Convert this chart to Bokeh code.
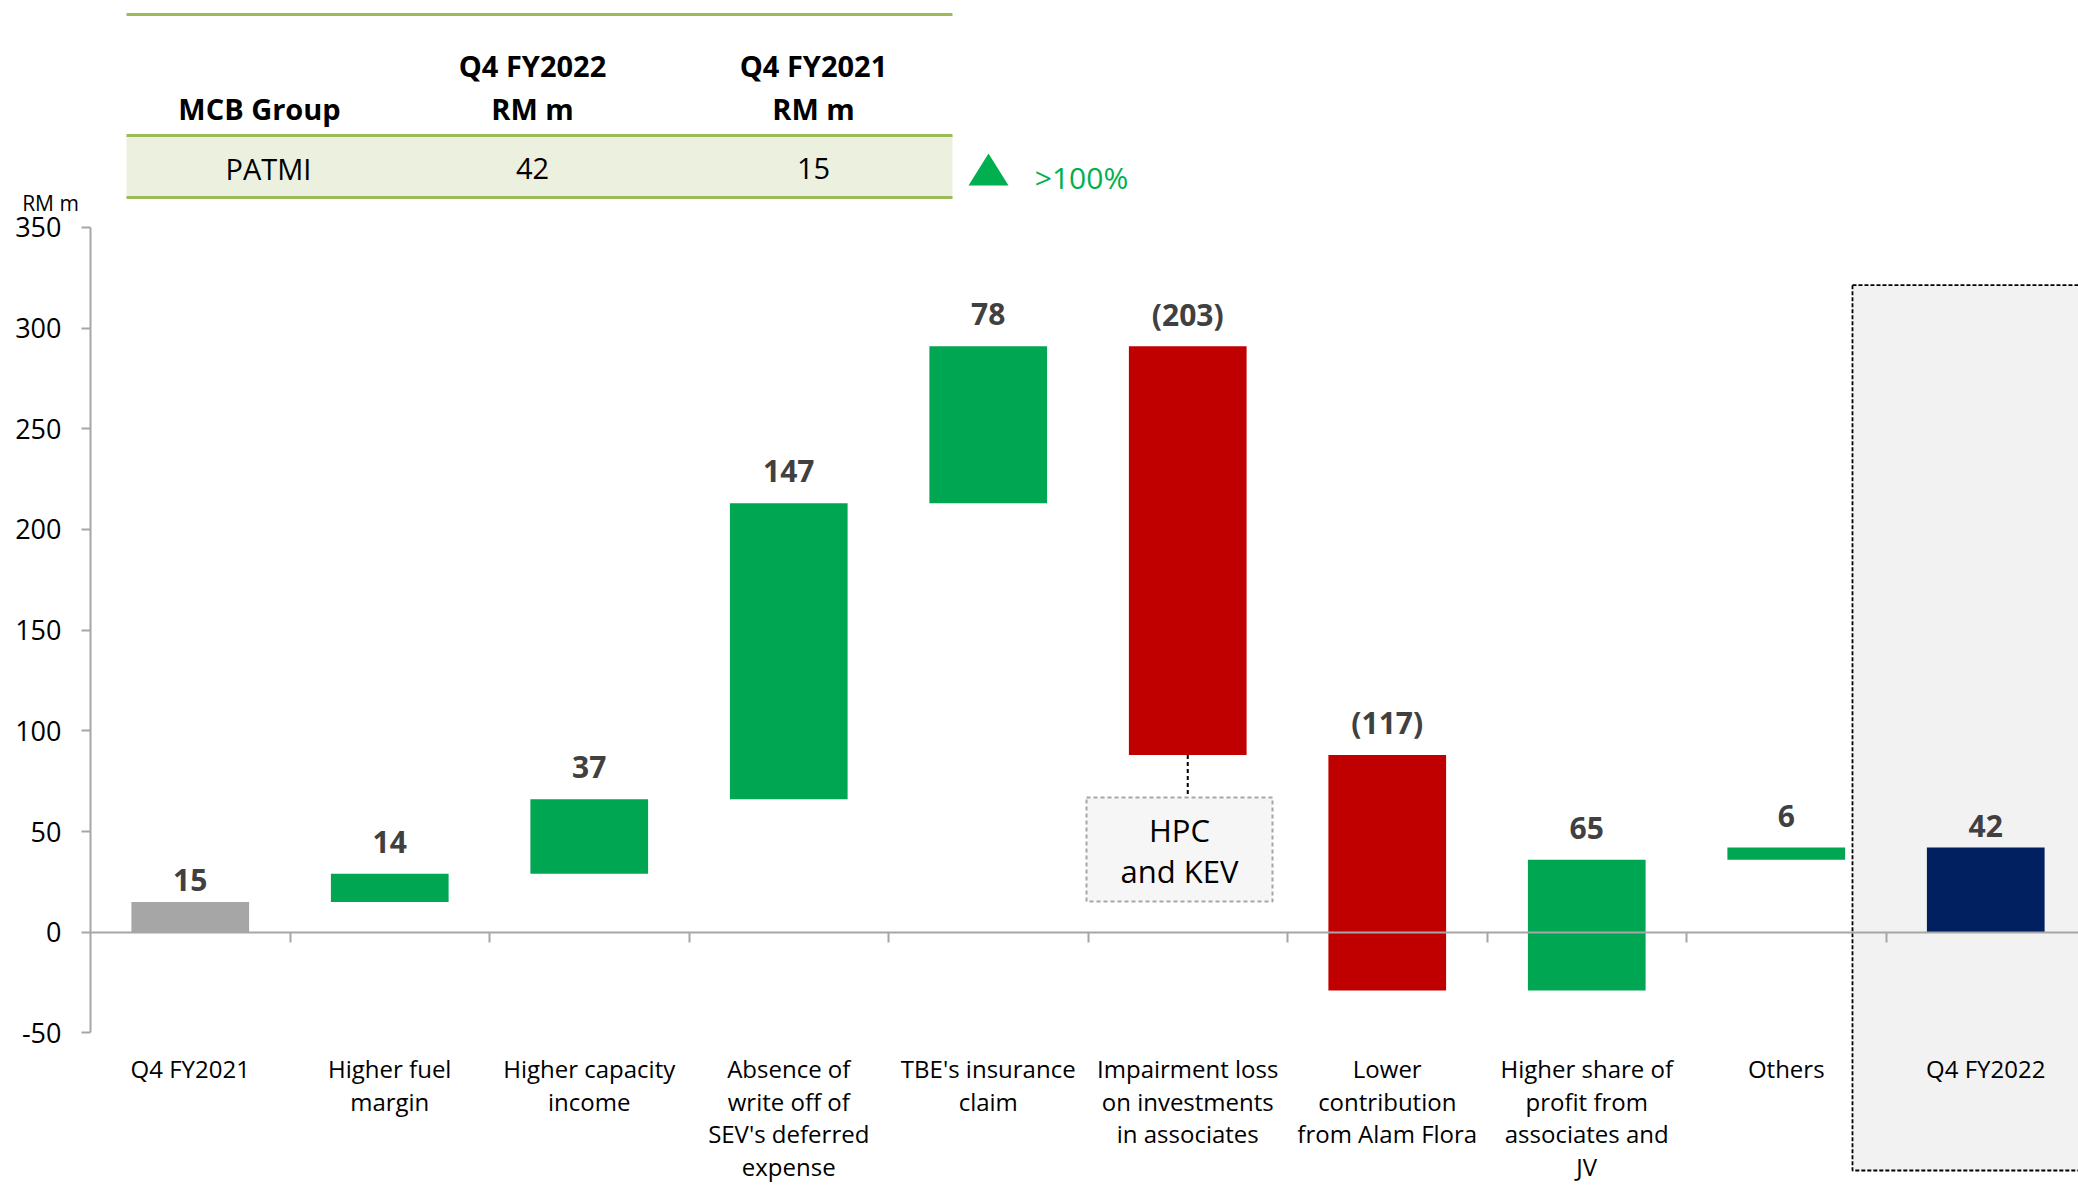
from bokeh.plotting import figure
from bokeh.models import Range1d, LinearAxis, FixedTicker, ColumnDataSource
from bokeh.core.properties import value
from bokeh.embed import file_html
from bokeh.resources import INLINE

# ---------------- data ----------------
categories = [
    "Q4 FY2021",
    "Higher fuel\nmargin",
    "Higher capacity\nincome",
    "Absence of\nwrite off of\nSEV's deferred\nexpense",
    "TBE's insurance\nclaim",
    "Impairment loss\non investments\nin associates",
    "Lower\ncontribution\nfrom Alam Flora",
    "Higher share of\nprofit from\nassociates and\nJV",
    "Others",
    "Q4 FY2022",
]
start_value = 15
deltas = [14, 37, 147, 78, -203, -117, 65, 6]
end_value = 42
y_ticks = [-50, 0, 50, 100, 150, 200, 250, 300, 350]

table_title = "MCB Group"
table_cols = ["Q4 FY2022", "Q4 FY2021"]
table_unit = "RM m"
table_row_name = "PATMI"
table_values = [42, 15]
table_change = ">100%"
note_text = ["HPC", "and KEV"]

# ---------------- layout helpers ----------------
W, H = 2078, 1186
X0, CW, Y0, YS = 90.0, 199.5, 931.7, 2.014   # page px of x=0, px per category, page px of y=0, px per unit


def dx(px):
    return (px - X0) / CW


def dy(py):
    return (Y0 - py) / YS


FONT = value("Open Sans")
GREEN, RED, GRAY, NAVY = "#00A651", "#C00000", "#A6A6A6", "#002060"

p = figure(width=W, height=H, output_backend="svg", toolbar_location=None,
           x_range=Range1d(dx(0), dx(W)), y_range=Range1d(dy(H), dy(0)),
           x_axis_type=None, y_axis_type=None, min_border=0,
           min_border_left=0, min_border_right=0, min_border_top=0, min_border_bottom=0)
p.outline_line_color = None
p.background_fill_color = "white"
p.border_fill_color = "white"

# ---------------- waterfall geometry ----------------
centers, bottoms, tops, colors, labels, kinds = [], [], [], [], [], []
centers.append(0.5); bottoms.append(0); tops.append(start_value); colors.append(GRAY)
labels.append(str(start_value)); kinds.append("total")
running = start_value
for i, d in enumerate(deltas):
    b, t = running, running + d
    centers.append(i + 1.5)
    bottoms.append(min(b, t)); tops.append(max(b, t))
    colors.append(GREEN if d >= 0 else RED)
    labels.append(str(d) if d >= 0 else "(%d)" % abs(d))
    kinds.append("delta")
    running += d
centers.append(len(deltas) + 1.5); bottoms.append(0); tops.append(end_value); colors.append(NAVY)
labels.append(str(end_value)); kinds.append("total")

# highlighted box around final bar
p.quad(left=[8.832], right=[10.6], bottom=[dy(1170)], top=[dy(284.6)],
       fill_color="#F2F2F2", line_color="#000000", line_dash="4 2", line_width=1.8)

src = ColumnDataSource(dict(x=centers, bottom=bottoms, top=tops, color=colors, label=labels))
p.vbar(x="x", width=0.59, bottom="bottom", top="top", fill_color="color",
       line_color=None, source=src)

tot_idx = [i for i, k in enumerate(kinds) if k == "total"]
del_idx = [i for i, k in enumerate(kinds) if k == "delta"]
for idx, off in ((tot_idx, -22), (del_idx, -32)):
    p.text(x=[centers[i] for i in idx], y=[tops[i] for i in idx], text=[labels[i] for i in idx],
           text_font=FONT, text_font_size=value("30px"), text_font_style="bold",
           text_color="#404040", text_align="center", text_baseline="middle", y_offset=off)

# ---------------- axes ----------------
yaxis = LinearAxis(fixed_location=0, bounds=(-50, 350), ticker=FixedTicker(ticks=y_ticks),
                   major_label_overrides={t: str(t) for t in y_ticks})
yaxis.axis_line_color = GRAY
yaxis.axis_line_width = 2
yaxis.major_tick_line_color = GRAY
yaxis.major_tick_line_width = 2
yaxis.major_tick_out = 9
yaxis.major_tick_in = 0
yaxis.minor_tick_line_color = None
yaxis.major_label_text_font = "Open Sans"
yaxis.major_label_text_font_size = "27px"
yaxis.major_label_text_color = "#000000"
yaxis.major_label_standoff = 20
p.add_layout(yaxis, "left")

# zero line with boundary ticks (minor ticks only, so no labels)
zaxis = LinearAxis(fixed_location=0, bounds=(0, 10.6),
                   ticker=FixedTicker(ticks=[], minor_ticks=list(range(1, len(categories)))))
zaxis.axis_line_color = GRAY
zaxis.axis_line_width = 2
zaxis.major_tick_line_color = None
zaxis.minor_tick_line_color = GRAY
zaxis.minor_tick_line_width = 2
zaxis.minor_tick_out = 10
zaxis.minor_tick_in = 0
p.add_layout(zaxis, "below")

cat_ticks = [i + 0.5 for i in range(len(categories))]
caxis = LinearAxis(fixed_location=-50, ticker=FixedTicker(ticks=cat_ticks),
                   major_label_overrides={t: c for t, c in zip(cat_ticks, categories)})
caxis.axis_line_color = None
caxis.major_tick_line_color = None
caxis.minor_tick_line_color = None
caxis.major_label_text_font = "Open Sans"
caxis.major_label_text_font_size = "24px"
caxis.major_label_text_color = "#000000"
caxis.major_label_text_line_height = 0.99
caxis.major_label_standoff = 13
p.add_layout(caxis, "below")

# ---------------- annotation box (HPC and KEV) ----------------
imp_i = 5
p.segment(x0=[centers[imp_i]], y0=[bottoms[imp_i]], x1=[centers[imp_i]], y1=[dy(797)],
          line_color="#000000", line_dash="4 3", line_width=2)
p.quad(left=[dx(1086)], right=[dx(1272)], bottom=[dy(901)], top=[dy(797)],
       fill_color="#F6F6F6", line_color=GRAY, line_dash="4 3", line_width=2)
p.text(x=[dx(1179)] * 2, y=[dy(829), dy(870)], text=note_text,
       text_font=FONT, text_font_size=value("31px"), text_color="#000000",
       text_align="center", text_baseline="middle")

# ---------------- "RM m" unit ----------------
p.text(x=[dx(50)], y=[dy(202)], text=[table_unit], text_font=FONT,
       text_font_size=value("21px"), text_color="#000000",
       text_align="center", text_baseline="middle")

# ---------------- summary table ----------------
TL = "#9BBB59"
p.quad(left=[dx(126)], right=[dx(952)], bottom=[dy(197)], top=[dy(135)],
       fill_color="#EBF1DE", line_color=None)
p.segment(x0=[dx(126)] * 3, x1=[dx(952)] * 3, y0=[dy(14), dy(135), dy(197)],
          y1=[dy(14), dy(135), dy(197)], line_color=TL, line_width=3)
col_x = [dx(532), dx(813)]
p.text(x=[dx(259)] + col_x + col_x,
       y=[dy(108), dy(65), dy(65), dy(108), dy(108)],
       text=[table_title] + table_cols + [table_unit, table_unit],
       text_font=FONT, text_font_size=value("29px"), text_font_style="bold",
       text_color="#000000", text_align="center", text_baseline="middle")
p.text(x=[dx(268)] + col_x, y=[dy(168)] * 3,
       text=[table_row_name] + [str(v) for v in table_values],
       text_font=FONT, text_font_size=value("29px"), text_color="#000000",
       text_align="center", text_baseline="middle")

p.patch(x=[dx(968), dx(1008), dx(988)], y=[dy(185), dy(185), dy(153)],
        fill_color="#00B050", line_color=None)
p.text(x=[dx(1081)], y=[dy(177)], text=[table_change], text_font=FONT,
       text_font_size=value("30px"), text_color="#00B050",
       text_align="center", text_baseline="middle")

open("out.html", "w").write(file_html(p, INLINE))
